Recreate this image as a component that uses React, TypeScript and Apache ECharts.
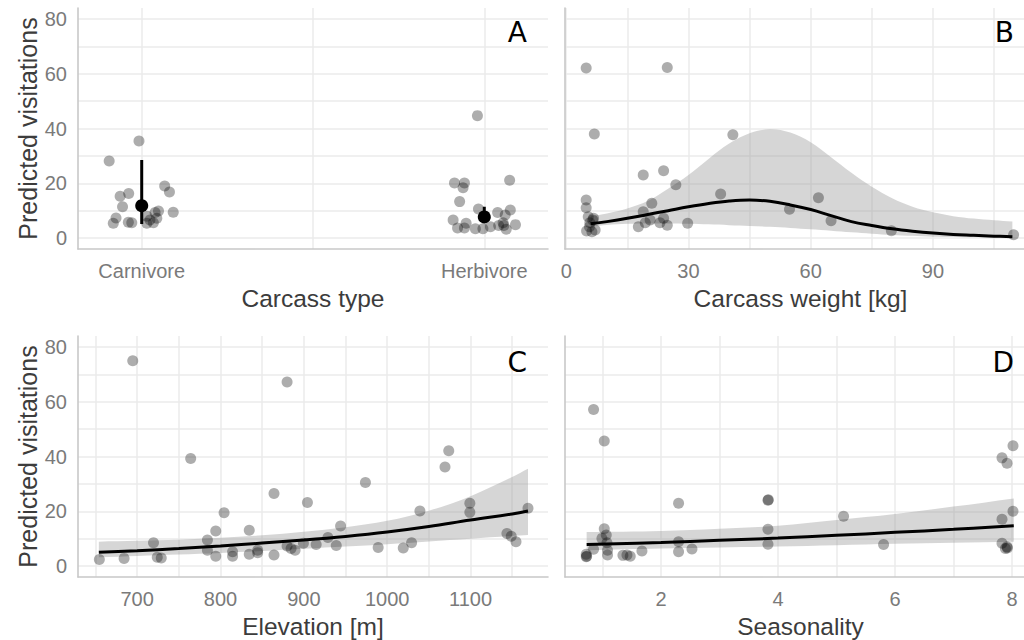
import React, { useEffect, useRef } from "react";
import * as echarts from "echarts";

// ---------- data ----------
const typeCategories = ["Carnivore", "Herbivore"];
const carnivorePoints = [
  [0.992, 35.4], [0.905, 28.1], [1.067, 19.0], [1.081, 16.8], [0.962, 16.3], [0.937, 15.3],
  [0.944, 11.4], [0.925, 7.3], [0.917, 5.4], [0.961, 5.8], [0.971, 5.6], [1.092, 9.4],
  [1.049, 9.9], [1.039, 9.3], [1.015, 8.0], [1.044, 7.2], [1.015, 5.4], [1.034, 5.6], [1.024, 6.6],
];
const herbivorePoints = [
  [1.98, 44.7], [1.913, 20.1], [1.942, 20.1], [1.938, 18.4], [2.074, 21.1], [1.928, 13.3],
  [1.983, 10.6], [2.039, 9.3], [2.076, 10.2], [2.061, 8.4], [1.909, 6.6], [1.947, 5.4],
  [1.922, 3.7], [1.942, 3.7], [1.974, 3.4], [1.996, 3.4], [2.018, 4.1], [2.042, 4.6],
  [2.057, 4.6], [2.064, 3.2], [2.091, 4.9], [2.055, 5.6],
];
const typeMean = [11.8, 7.7];
const typeLower = [5.1, 5.5];
const typeUpper = [28.5, 11.4];

const weightPoints = [
  [4.9, 62.1], [24.8, 62.3], [6.9, 38.0], [40.9, 37.7], [18.9, 23.0], [23.9, 24.6], [26.9, 19.5],
  [37.9, 16.1], [61.9, 14.7], [4.9, 13.9], [4.9, 11.1], [21.0, 12.7], [54.8, 10.5], [18.9, 9.6],
  [65.0, 6.3], [29.8, 5.4], [79.8, 2.7], [109.8, 1.2], [17.7, 4.1], [19.4, 5.6], [20.6, 6.6],
  [23.0, 5.6], [23.9, 7.2], [24.8, 4.7], [5.4, 7.8], [6.7, 7.2], [5.8, 5.6], [5.0, 2.6],
  [6.3, 2.3], [7.1, 2.9], [5.7, 4.1], [6.5, 6.6],
];
const weightGrid = [6, 10, 15, 20, 25, 30, 35, 40, 45, 50, 55, 60, 65, 70, 75, 80, 85, 90, 95, 100, 105, 109.5];
const weightFit = [5.2, 6.0, 7.2, 8.6, 10.0, 11.4, 12.6, 13.5, 13.9, 13.4, 12.1, 10.4, 8.2, 6.0, 4.6, 3.4, 2.5, 1.8, 1.3, 1.0, 0.7, 0.5];
const weightLower = [4.3, 4.8, 5.2, 5.3, 5.3, 5.2, 5.0, 4.7, 4.4, 4.1, 3.7, 3.2, 2.7, 2.1, 1.6, 1.1, 0.8, 0.5, 0.4, 0.3, 0.2, 0.2];
const weightUpper = [8.0, 9.0, 10.8, 13.5, 18.0, 23.0, 29.0, 34.5, 38.3, 39.7, 38.5, 35.0, 29.5, 23.8, 18.7, 14.5, 11.4, 9.4, 8.0, 7.1, 6.5, 6.0];

const elevationPoints = [
  [694.7, 75.0], [879.9, 67.2], [1073.9, 42.1], [1069.4, 36.2], [764.2, 39.3], [973.9, 30.5],
  [864.2, 26.5], [904.3, 23.2], [804.3, 19.5], [1039.3, 20.1], [1099.2, 22.9], [1099.2, 19.6],
  [1169, 21.1], [944.1, 14.6], [794.3, 12.8], [834.5, 13.1], [719.6, 8.5], [784.3, 9.5],
  [784.3, 5.8], [654.6, 2.4], [684.3, 2.8], [724.1, 3.2], [728.9, 2.9], [794.3, 3.6],
  [814.5, 5.2], [814.5, 3.6], [834.5, 4.3], [844.6, 5.8], [844.6, 4.9], [864.2, 4.0],
  [879.9, 7.3], [884.7, 6.4], [889.5, 5.8], [899.5, 8.3], [914.8, 7.9], [928.9, 10.4],
  [938.9, 7.5], [989.2, 6.8], [1019.3, 6.6], [1029.3, 8.5], [1143.7, 11.9], [1148.9, 10.9],
  [1154.6, 8.9],
];
const elevationGrid = [654, 700, 750, 800, 850, 900, 950, 1000, 1050, 1100, 1150, 1169];
const elevationFit = [5.0, 5.6, 6.4, 7.3, 8.4, 9.5, 10.8, 12.4, 14.4, 16.8, 19.0, 20.1];
const elevationLower = [3.2, 3.7, 4.2, 4.8, 5.5, 6.3, 7.1, 8.0, 9.0, 10.0, 11.0, 11.3];
const elevationUpper = [8.9, 9.2, 9.6, 10.3, 11.2, 12.5, 14.2, 16.5, 20.2, 25.5, 32.5, 35.5];

const seasonPoints = [
  [0.848, 57.2], [1.031, 45.7], [8.017, 43.9], [7.829, 39.5], [7.915, 37.5], [2.301, 22.9],
  [3.829, 24.0], [3.835, 24.2], [5.121, 18.2], [8.017, 20.0], [7.829, 17.1], [3.829, 13.4],
  [1.031, 13.6], [1.065, 11.3], [0.991, 10.1], [2.301, 8.9], [2.301, 5.2], [2.53, 6.2],
  [1.675, 5.5], [3.829, 8.0], [5.805, 7.9], [7.829, 8.3], [7.915, 7.0], [7.92, 6.6],
  [7.887, 6.4], [0.723, 4.3], [0.73, 3.6], [0.723, 3.4], [0.848, 6.1], [1.077, 8.5],
  [1.087, 5.8], [1.087, 4.0], [1.35, 3.9], [1.475, 3.6], [1.419, 4.0],
];
const seasonGrid = [0.73, 2, 3, 4, 5, 6, 7, 8.03];
const seasonFit = [7.9, 8.6, 9.4, 10.2, 11.2, 12.3, 13.4, 14.7];
const seasonLower = [5.8, 6.4, 6.8, 7.1, 7.6, 8.1, 8.5, 8.9];
const seasonUpper = [12.4, 12.8, 13.6, 14.7, 16.8, 19.0, 21.7, 24.7];

const yAxisTitle = "Predicted visitations";
const xAxisTitles = ["Carcass type", "Carcass weight [kg]", "Elevation [m]", "Seasonality"];
const panelTags = ["A", "B", "C", "D"];

// ---------- styling ----------
const FONT = "'Liberation Sans', Arial, sans-serif";
const GRID_COLOR = "#ebebeb";
const AXIS_COLOR = "#c8c8c8";
const TICK_COLOR = "#7a7a7a";
const TITLE_COLOR = "#3c3c3c";
const POINT_COLOR = "rgba(0,0,0,0.4)";
const RIBBON_COLOR = "rgba(153,153,153,0.4)";

const near = (v: number, t: number) => Math.abs(v - t) < 1e-6;

function makeX(gridIndex: number, min: number, max: number, step: number, fmt: (v: number) => string, name: string) {
  return {
    type: "value",
    gridIndex,
    min,
    max,
    minInterval: step,
    maxInterval: step,
    splitNumber: Math.round((max - min) / step),
    axisLine: { show: true, onZero: false, lineStyle: { color: AXIS_COLOR, width: 1.6 } },
    axisTick: { show: false },
    axisLabel: {
      margin: 12,
      color: TICK_COLOR,
      fontSize: 20,
      fontFamily: FONT,
      showMinLabel: false,
      showMaxLabel: false,
      formatter: (v: number) => fmt(v),
    },
    splitLine: { show: true, showMinLine: false, showMaxLine: false, lineStyle: { color: GRID_COLOR, width: 1.5 } },
    name,
    nameLocation: "middle",
    nameGap: 37,
    nameTextStyle: { color: TITLE_COLOR, fontSize: 24.5, fontFamily: FONT },
  };
}

function makeY(gridIndex: number, showLabels: boolean) {
  return {
    type: "value",
    gridIndex,
    min: -4,
    max: 84,
    minInterval: 10,
    maxInterval: 10,
    splitNumber: 9,
    axisLine: { show: true, onZero: false, lineStyle: { color: AXIS_COLOR, width: 1.6 } },
    axisTick: { show: false },
    axisLabel: {
      show: showLabels,
      margin: 11,
      color: TICK_COLOR,
      fontSize: 20,
      fontFamily: FONT,
      showMinLabel: false,
      showMaxLabel: false,
      formatter: (v: number) => {
        const r = Math.round(v);
        return near(v, r) && r % 20 === 0 ? String(r) : "";
      },
    },
    splitLine: { show: true, showMinLine: false, showMaxLine: false, lineStyle: { color: GRID_COLOR, width: 1.5 } },
    name: showLabels ? yAxisTitle : "",
    nameLocation: "middle",
    nameGap: 38,
    nameTextStyle: { color: TITLE_COLOR, fontSize: 25, fontFamily: FONT },
  };
}

function scatter(idx: number, pts: number[][]) {
  return {
    type: "scatter",
    xAxisIndex: idx,
    yAxisIndex: idx,
    data: pts,
    symbolSize: 11,
    itemStyle: { color: POINT_COLOR },
    silent: true,
  };
}

function ribbonAndFit(idx: number, xs: number[], fit: number[], lo: number[], hi: number[]) {
  return [
    {
      type: "custom",
      xAxisIndex: idx,
      yAxisIndex: idx,
      data: xs.map((x, i) => [x, lo[i], hi[i]]),
      encode: { x: 0, y: [1, 2] },
      silent: true,
      renderItem: (params: any, api: any) => {
        if (params.dataIndex !== 0) return null;
        const up = xs.map((x, i) => api.coord([x, hi[i]]));
        const low = xs.map((x, i) => api.coord([x, lo[i]])).reverse();
        // duplicate corner points so the smoothed outline keeps straight vertical ends
        const pts = [up[0], ...up, up[up.length - 1], low[0], ...low, low[low.length - 1]];
        return {
          type: "polygon",
          shape: { points: pts, smooth: 0.35 },
          style: { fill: RIBBON_COLOR, stroke: "none" },
        };
      },
    },
    {
      type: "line",
      xAxisIndex: idx,
      yAxisIndex: idx,
      data: xs.map((x, i) => [x, fit[i]]),
      smooth: 0.4,
      symbol: "none",
      lineStyle: { color: "#000", width: 3 },
      silent: true,
    },
  ];
}

export default function App() {
  const ref = useRef<HTMLDivElement>(null);
  useEffect(() => {
    if (!ref.current) return;
    const chart = echarts.init(ref.current, undefined, { renderer: "svg" });

    const gridBase = { outerBoundsMode: "none", containLabel: false, height: 241 };
    const grids = [
      { ...gridBase, left: 78, top: 8, width: 470 },
      { ...gridBase, left: 565, top: 8, width: 471 },
      { ...gridBase, left: 78, top: 336, width: 470 },
      { ...gridBase, left: 565, top: 336, width: 471 },
    ];

    const xAxes = [
      makeX(0, 0.814, 2.186, 0.5, (v) => (near(v, 1) ? typeCategories[0] : near(v, 2) ? typeCategories[1] : ""), xAxisTitles[0]),
      makeX(1, -0.3, 115.3, 15, (v) => {
        const r = Math.round(v);
        return near(v, r) && r % 30 === 0 ? String(r) : "";
      }, xAxisTitles[1]),
      makeX(2, 629, 1193, 50, (v) => {
        const r = Math.round(v);
        return near(v, r) && r % 100 === 0 ? String(r) : "";
      }, xAxisTitles[2]),
      makeX(3, 0.36, 8.41, 1, (v) => {
        const r = Math.round(v);
        return near(v, r) && r % 2 === 0 ? String(r) : "";
      }, xAxisTitles[3]),
    ];
    const yAxes = [makeY(0, true), makeY(1, false), makeY(2, true), makeY(3, false)];

    const series: any[] = [
      scatter(0, carnivorePoints),
      scatter(0, herbivorePoints),
      ...typeCategories.map((_, i) => ({
        type: "line",
        xAxisIndex: 0,
        yAxisIndex: 0,
        data: [[i + 1, typeLower[i]], [i + 1, typeUpper[i]]],
        symbol: "none",
        lineStyle: { color: "#000", width: 3 },
        silent: true,
      })),
      {
        type: "scatter",
        xAxisIndex: 0,
        yAxisIndex: 0,
        data: typeMean.map((m, i) => [i + 1, m]),
        symbolSize: 13,
        itemStyle: { color: "#000", opacity: 1 },
        silent: true,
      },
      scatter(1, weightPoints),
      ...ribbonAndFit(1, weightGrid, weightFit, weightLower, weightUpper),
      scatter(2, elevationPoints),
      ...ribbonAndFit(2, elevationGrid, elevationFit, elevationLower, elevationUpper),
      scatter(3, seasonPoints),
      ...ribbonAndFit(3, seasonGrid, seasonFit, seasonLower, seasonUpper),
    ];

    const tagPos = [
      [527, 32],
      [1014, 32],
      [527, 362],
      [1014, 362],
    ];
    const graphic = panelTags.map((t, i) => ({
      type: "text",
      x: tagPos[i][0],
      y: tagPos[i][1],
      style: {
        text: t,
        fontSize: 28,
        fontFamily: "'DejaVu Sans', sans-serif",
        fill: "#000",
        align: "right",
        verticalAlign: "middle",
      },
      z: 100,
    }));

    chart.setOption({
      animation: false,
      backgroundColor: "#fff",
      grid: grids,
      xAxis: xAxes,
      yAxis: yAxes,
      series,
      graphic,
    });
    return () => chart.dispose();
  }, []);

  return (
    <div
      ref={ref}
      style={{ position: "fixed", left: 0, top: 0, width: 1024, height: 640, background: "#fff" }}
    />
  );
}
